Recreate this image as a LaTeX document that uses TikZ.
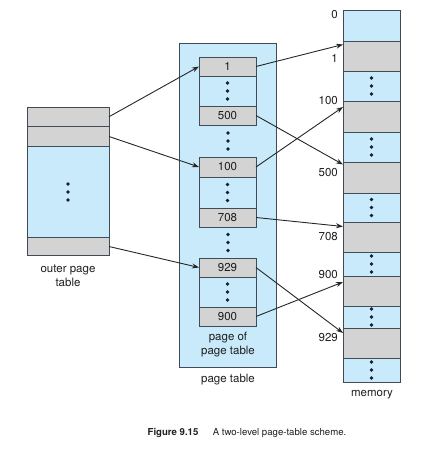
\documentclass[tikz,border=0pt]{standalone}
\usepackage{fontspec}
\setmainfont{TeX Gyre Heros}
\usepackage{xcolor}
\usepackage{tikz}
\usetikzlibrary{arrows, arrows.meta, positioning, calc}

\definecolor{cellblue}{RGB}{200,234,250}
\definecolor{cellgray}{RGB}{211,211,211}
\definecolor{edgecol}{RGB}{65,75,85}
\definecolor{dotcol}{RGB}{20,30,50}
\definecolor{txtcol}{RGB}{30,30,30}

\begin{document}
\begin{tikzpicture}[x=1pt, y=-1pt,
  box/.style={draw=edgecol, line width=0.7pt, inner sep=0pt, outer sep=0pt, anchor=north west},
  ocell/.style={box, minimum width=82pt},
  pcell/.style={box, minimum width=57pt, text=txtcol, font=\fontsize{11.5}{13}\selectfont},
  mcell/.style={box, minimum width=57pt},
  lbl/.style={text=txtcol, align=center, font=\fontsize{11.5}{14}\selectfont},
  addr/.style={lbl, anchor=east, inner sep=0pt},
  arr/.style={-{Stealth[length=7pt, width=5pt]}, line width=0.9pt, draw=black!85},
  vdots/.pic={\fill[dotcol] (0,-8) circle (1.8pt) (0,0) circle (1.8pt) (0,8) circle (1.8pt);}]

  \useasboundingbox (0,0) rectangle (427,450);

  % Outer page table
  \node[ocell, fill=cellgray, minimum height=19.5pt] (o1) at (27,107) {};
  \node[ocell, fill=cellgray, minimum height=20pt] (o2) at (27,126.5) {};
  \node[ocell, fill=cellblue, minimum height=91pt] (omid) at (27,146.5) {};
  \node[ocell, fill=cellgray, minimum height=18pt] (o4) at (27,237.5) {};
  \pic at (omid.center) {vdots};
  \node[lbl] (outerlbl) at (68,276) {outer page\\table};

  % Page table (background)
  \node[box, fill=cellblue, minimum width=97pt, minimum height=324pt] (ptab) at (179,43) {};
  \node[lbl] (ptablbl) at (228,380) {page table};

  % Page of page table: first group
  \node[pcell, fill=cellgray, minimum height=19pt] (p1) at (199,57) {1};
  \node[pcell, fill=cellblue, minimum height=30pt] (pd1) at (199,76) {};
  \node[pcell, fill=cellgray, minimum height=19pt] (p500) at (199,106) {500};
  \pic at (pd1.center) {vdots};
  \pic at (228,141) {vdots};

  % Second group
  \node[pcell, fill=cellgray, minimum height=20pt] (p100) at (199,157) {100};
  \node[pcell, fill=cellblue, minimum height=31pt] (pd2) at (199,177) {};
  \node[pcell, fill=cellgray, minimum height=19pt] (p708) at (199,208) {708};
  \pic at (pd2.center) {vdots};
  \pic at (228,242.5) {vdots};

  % Third group
  \node[pcell, fill=cellgray, minimum height=19pt] (p929) at (199,258) {929};
  \node[pcell, fill=cellblue, minimum height=30pt] (pd3) at (199,277) {};
  \node[pcell, fill=cellgray, minimum height=19pt] (p900) at (199,307) {900};
  \pic at (pd3.center) {vdots};
  \node[lbl] (pagelbl) at (228,344.5) {page of\\page table};

  % Memory
  \node[mcell, fill=cellblue, minimum height=31pt] (m0) at (343,10) {};
  \node[mcell, fill=cellgray, minimum height=30pt] (m1) at (343,41) {};
  \node[mcell, fill=cellblue, minimum height=30pt] (md1) at (343,71) {};
  \node[mcell, fill=cellgray, minimum height=31pt] (m100) at (343,101) {};
  \node[mcell, fill=cellblue, minimum height=30pt] (md2) at (343,132) {};
  \node[mcell, fill=cellgray, minimum height=31pt] (m500) at (343,162) {};
  \node[mcell, fill=cellblue, minimum height=29pt] (md3) at (343,193) {};
  \node[mcell, fill=cellgray, minimum height=30pt] (m708) at (343,222) {};
  \node[mcell, fill=cellblue, minimum height=24pt] (md4) at (343,252) {};
  \node[mcell, fill=cellgray, minimum height=30pt] (m900) at (343,276) {};
  \node[mcell, fill=cellblue, minimum height=22pt] (md5) at (343,306) {};
  \node[mcell, fill=cellgray, minimum height=30pt] (m929) at (343,328) {};
  \node[mcell, fill=cellblue, minimum height=24pt] (md6) at (343,358) {};
  \pic at (md1.center) {vdots};
  \pic at (md2.center) {vdots};
  \pic at (md3.center) {vdots};
  \pic at (md4.center) {vdots};
  \pic at (md5.center) {vdots};
  \pic at (md6.center) {vdots};
  \node[lbl] (memlbl) at (372,395) {memory};

  % Addresses
  \node[addr] (a0) at (338,15) {0};
  \node[addr] (a1) at (338,58) {1};
  \node[addr] (a100) at (338,101) {100};
  \node[addr] (a500) at (338,173) {500};
  \node[addr] (a708) at (338,237) {708};
  \node[addr] (a900) at (338,275) {900};
  \node[addr] (a929) at (338,338) {929};

  % Outer table to page table
  \draw[arr] (o1.east) -- (p1.west);
  \draw[arr] (o2.east) -- (p100.west);
  \draw[arr] (o4.east) -- (p929.west);

  % Page table to memory
  \draw[arr] (p1.east) -- ($(m1.north west)+(0,3.5)$);
  \draw[arr] (p500.east) -- ($(m500.north west)+(0,2.5)$);
  \draw[arr] (p100.east) -- ($(m100.north west)+(0,6)$);
  \draw[arr] (p708.east) -- ($(m708.north west)+(0,4.5)$);
  \draw[arr] (p929.east) -- ($(m929.north west)+(0,5)$);
  \draw[arr] (p900.east) -- ($(m900.north west)+(0,6)$);

  % Caption
  \node[text=txtcol, font=\fontsize{9.6}{12}\selectfont] (caption) at (247,433)
    {\textbf{Figure 9.15}\hspace{1.5em}A two-level page-table scheme.};
\end{tikzpicture}
\end{document}
